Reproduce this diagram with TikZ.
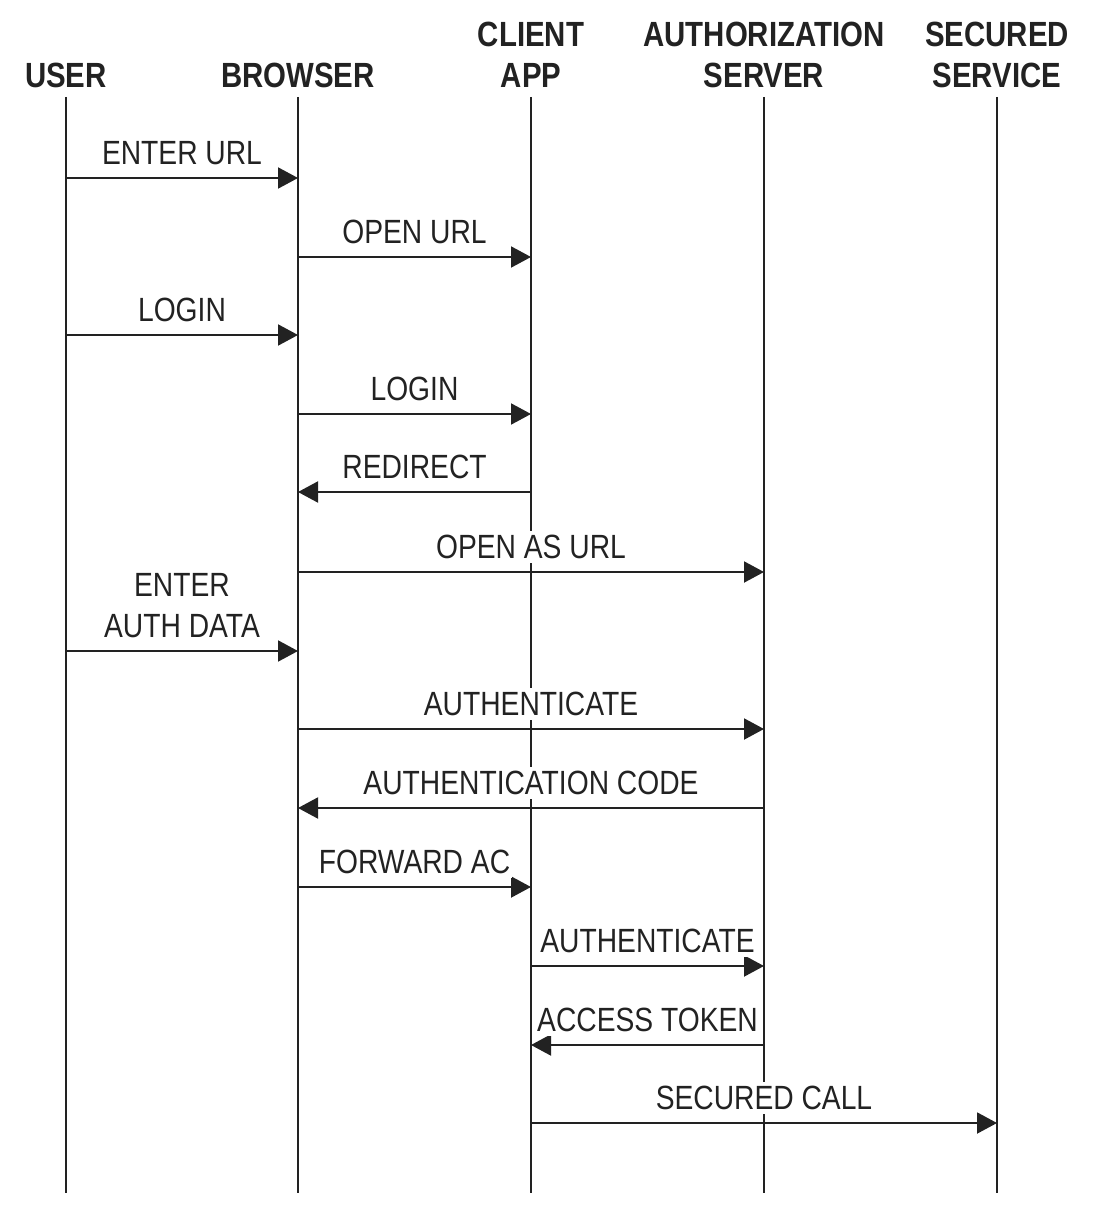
\documentclass[tikz,border=0pt]{standalone}
\usepackage{fontspec}
\setmainfont{Liberation Sans}[FakeStretch=0.84]
\usetikzlibrary{arrows.meta}
\definecolor{ink}{HTML}{222222}
\tikzset{
  head/.style={font=\bfseries\fontsize{17.5}{20.5}\selectfont, text=ink, align=center, anchor=south, inner sep=0pt},
  life/.style={line width=1pt, ink},
  msg/.style={line width=1pt, ink, -{Triangle[length=10pt,width=10.5pt]}},
  lbl/.style={font=\fontsize{16.8}{20.5}\selectfont, text=ink, fill=white, inner xsep=1pt, inner ysep=2pt, align=center, above=4pt}
}
\begin{document}
\begin{tikzpicture}[x=0.5pt, y=-0.5pt]
    \useasboundingbox (0,0) rectangle (1097,1219);
    % heads
    \node[head] (user) at (66,88) {USER};
    \node[head] (browser) at (298,88) {BROWSER};
    \node[head] (client) at (531,88) {CLIENT\\APP};
    \node[head] (auth) at (764,88) {AUTHORIZATION\\SERVER};
    \node[head] (service) at (997,88) {SECURED\\SERVICE};
    % lifelines
    \coordinate (usr) at (66,97);
    \coordinate (brw) at (298,97);
    \coordinate (cli) at (531,97);
    \coordinate (aut) at (764,97);
    \coordinate (sec) at (997,97);
    \draw[life] (usr) -- (usr |- 0,1193);
    \draw[life] (brw) -- (brw |- 0,1193);
    \draw[life] (cli) -- (cli |- 0,1193);
    \draw[life] (aut) -- (aut |- 0,1193);
    \draw[life] (sec) -- (sec |- 0,1193);
    % login
    \draw[msg] (usr |- 0,178) -- (brw |- 0,178) node[midway, lbl] {ENTER URL};
    \draw[msg] (brw |- 0,257) -- (cli |- 0,257) node[midway, lbl] {OPEN URL};
    \draw[msg] (usr |- 0,335) -- (brw |- 0,335) node[midway, lbl] {LOGIN};
    \draw[msg] (brw |- 0,414) -- (cli |- 0,414) node[midway, lbl] {LOGIN};
    \draw[msg] (cli |- 0,492) -- (brw |- 0,492) node[midway, lbl] {REDIRECT};
    % authorization
    \draw[msg] (brw |- 0,572) -- (aut |- 0,572) node[midway, lbl] {OPEN AS URL};
    \draw[msg] (usr |- 0,651) -- (brw |- 0,651) node[midway, lbl] {ENTER\\AUTH DATA};
    \draw[msg] (brw |- 0,729) -- (aut |- 0,729) node[midway, lbl] {AUTHENTICATE};
    \draw[msg] (aut |- 0,808) -- (brw |- 0,808) node[midway, lbl] {AUTHENTICATION CODE};
    \draw[msg] (brw |- 0,887) -- (cli |- 0,887) node[midway, lbl] {FORWARD AC};
    % token
    \draw[msg] (cli |- 0,966) -- (aut |- 0,966) node[midway, lbl] {AUTHENTICATE};
    \draw[msg] (aut |- 0,1045) -- (cli |- 0,1045) node[midway, lbl] {ACCESS TOKEN};
    \draw[msg] (cli |- 0,1123) -- (sec |- 0,1123) node[midway, lbl] {SECURED CALL};
\end{tikzpicture}
\end{document}
